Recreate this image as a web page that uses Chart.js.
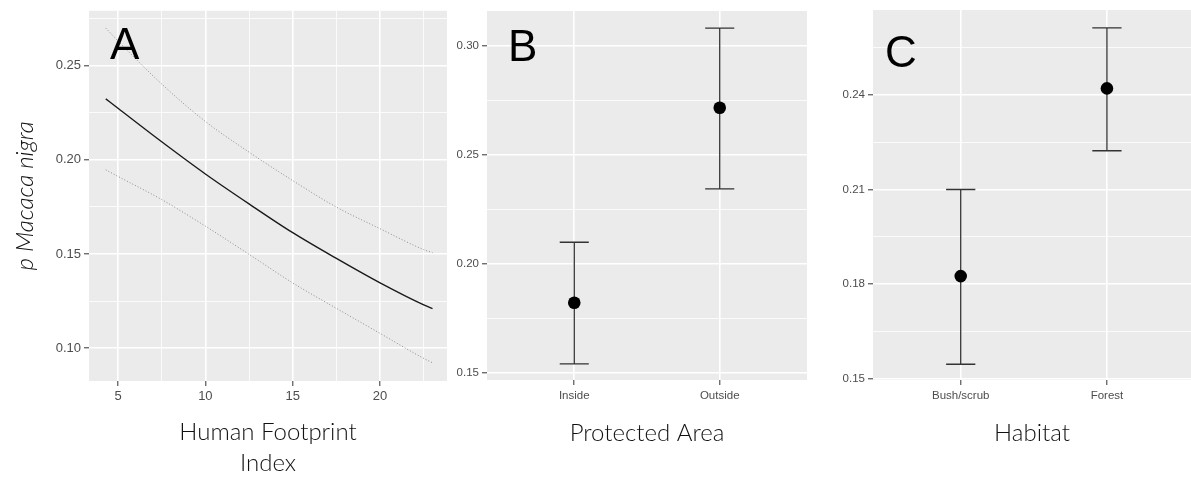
<!DOCTYPE html>
<html>
<head>
<meta charset="utf-8">
<script src="https://cdn.jsdelivr.net/npm/chart.js@4.4.0/dist/chart.umd.min.js"></script>
<style>
  html, body { margin: 0; padding: 0; background: #fff; }
  body { width: 1191px; height: 480px; position: relative; overflow: hidden; }
  canvas { position: absolute; top: 0; }
  .tag { position: absolute; font-family: "Liberation Sans", Arial, sans-serif; font-size: 44px; line-height: 44px; color: #000; }
</style>
</head>
<body>
<canvas id="chartA" width="450" height="480" style="left:0px"></canvas>
<canvas id="chartB" width="372" height="480" style="left:440px"></canvas>
<canvas id="chartC" width="371" height="480" style="left:820px"></canvas>
<div class="tag" style="left:110px;top:22px">A</div>
<div class="tag" style="left:508px;top:24px">B</div>
<div class="tag" style="left:885px;top:30px">C</div>
<script>
// A: human footprint index (fit + dotted CI)
const hfiX = [4.3, 5, 7.5, 10, 12.5, 15, 17.5, 20, 22.5, 23];
const hfiFit = [0.2324, 0.2274, 0.2096, 0.1925, 0.1766, 0.1613, 0.1476, 0.1346, 0.1229, 0.1210];
const hfiUpper = [0.2700, 0.2632, 0.2403, 0.2204, 0.2041, 0.1890, 0.1749, 0.1634, 0.1523, 0.1507];
const hfiLower = [0.1947, 0.1912, 0.1789, 0.1648, 0.1498, 0.1346, 0.1211, 0.1078, 0.0945, 0.0922];
const hfiXTicks = [5, 10, 15, 20];
const hfiYTicks = [0.10, 0.15, 0.20, 0.25];

// B: protected area
const paCats = ['Inside', 'Outside'];
const paMean = [0.1823, 0.2716];
const paLow = [0.1543, 0.2344];
const paHigh = [0.2100, 0.3081];
const paYTicks = [0.15, 0.20, 0.25, 0.30];

// C: habitat
const habCats = ['Bush/scrub', 'Forest'];
const habMean = [0.1825, 0.2421];
const habLow = [0.1545, 0.2223];
const habHigh = [0.2100, 0.2613];
const habYTicks = [0.15, 0.18, 0.21, 0.24];

const tickFont = 'Liberation Sans, Arial, sans-serif';
const titleFont = {family: 'Lato, sans-serif', size: 24, weight: '300', lineHeight: 1.29};

// major ticks plus the ggplot-style minor grid halfway between them
function withMinor(major, min, max) {
  const step = major[1] - major[0];
  const out = major.map(v => ({value: v, minor: false}));
  [major[0] - step / 2].concat(major.map(v => v + step / 2)).forEach(v => {
    if (v > min && v < max) out.push({value: v, minor: true});
  });
  return out.sort((a, b) => a.value - b.value);
}

function axis(o) {
  return {
    type: 'linear',
    min: o.min,
    max: o.max,
    afterBuildTicks: s => { s.ticks = o.ticks.map(t => Object.assign({}, t)); },
    afterFit: s => { if (s.isHorizontal()) s.height = o.size; else s.width = o.size; },
    border: {display: false},
    grid: {
      color: '#ffffff',
      lineWidth: c => (c.tick && c.tick.minor) ? 0.8 : 1.6,
      tickColor: c => (c.tick && c.tick.minor) ? 'rgba(0,0,0,0)' : '#333333',
      tickLength: 5,
      tickWidth: 1
    },
    ticks: {
      autoSkip: false,
      maxRotation: 0,
      padding: o.pad,
      color: '#4d4d4d',
      font: {family: tickFont, size: o.fontSize},
      callback: (v, i, t) => t[i].minor ? '' : o.fmt(v)
    },
    title: o.title || {display: false}
  };
}

const panelBg = {
  id: 'panelBg',
  beforeDraw(chart) {
    const {ctx, chartArea: a} = chart;
    ctx.save();
    ctx.fillStyle = '#ebebeb';
    ctx.fillRect(a.left, a.top, a.right - a.left, a.bottom - a.top);
    ctx.restore();
  }
};

const errorBars = {
  id: 'errorBars',
  beforeDatasetsDraw(chart, args, opts) {
    if (!opts.low) return;
    const {ctx} = chart;
    const x = chart.scales.x, y = chart.scales.y;
    ctx.save();
    ctx.strokeStyle = '#333333';
    ctx.lineWidth = 1.3;
    opts.low.forEach((lo, i) => {
      const c = i + 1;
      const xc = x.getPixelForValue(c);
      const xl = x.getPixelForValue(c - opts.cap);
      const xr = x.getPixelForValue(c + opts.cap);
      const yl = y.getPixelForValue(lo);
      const yh = y.getPixelForValue(opts.high[i]);
      ctx.beginPath();
      ctx.moveTo(xc, yl); ctx.lineTo(xc, yh);
      ctx.moveTo(xl, yl); ctx.lineTo(xr, yl);
      ctx.moveTo(xl, yh); ctx.lineTo(xr, yh);
      ctx.stroke();
    });
    ctx.restore();
  }
};

const pts = ys => ys.map((v, i) => ({x: hfiX[i], y: v}));

new Chart(document.getElementById('chartA'), {
  type: 'line',
  data: {
    datasets: [
      {data: pts(hfiUpper), borderColor: '#8c8c8c', borderWidth: 1, borderDash: [1, 2], pointRadius: 0, cubicInterpolationMode: 'monotone'},
      {data: pts(hfiLower), borderColor: '#8c8c8c', borderWidth: 1, borderDash: [1, 2], pointRadius: 0, cubicInterpolationMode: 'monotone'},
      {data: pts(hfiFit), borderColor: '#1a1a1a', borderWidth: 1.4, pointRadius: 0, cubicInterpolationMode: 'monotone'}
    ]
  },
  options: {
    responsive: false,
    animation: false,
    devicePixelRatio: 1,
    layout: {padding: {left: 0, right: 3, top: 10, bottom: 0}, autoPadding: false},
    plugins: {legend: {display: false}, tooltip: {enabled: false}},
    scales: {
      x: axis({min: 3.34, max: 23.83, ticks: withMinor(hfiXTicks, 3.34, 23.83), size: 99, pad: 3, fontSize: 13,
        fmt: v => String(v),
        title: {display: true, text: ['Human Footprint', 'Index'], color: '#111', font: titleFont, padding: {top: 0, bottom: 1.5}}}),
      y: axis({min: 0.0825, max: 0.2792, ticks: withMinor(hfiYTicks, 0.0825, 0.2792), size: 89, pad: 3, fontSize: 13,
        fmt: v => v.toFixed(2),
        title: {display: true, text: 'p Macaca nigra', color: '#111', font: Object.assign({}, titleFont, {style: 'italic'}), padding: {top: 9.5, bottom: 0}}})
    }
  },
  plugins: [panelBg]
});

function catChart(id, cats, mean, low, high, yTicks, yMin, yMax, xMax, yWidth, padRight, padTop, title) {
  new Chart(document.getElementById(id), {
    type: 'scatter',
    data: {
      datasets: [{
        data: mean.map((v, i) => ({x: i + 1, y: v})),
        pointRadius: 6.3,
        pointBackgroundColor: '#000',
        pointBorderWidth: 0
      }]
    },
    options: {
      responsive: false,
      animation: false,
      devicePixelRatio: 1,
      layout: {padding: {left: 0, right: padRight, top: padTop, bottom: 0}, autoPadding: false},
      plugins: {legend: {display: false}, tooltip: {enabled: false}, errorBars: {low: low, high: high, cap: 0.1}},
      scales: {
        x: axis({min: 0.4, max: xMax, ticks: cats.map((c, i) => ({value: i + 1, minor: false})), size: 100, pad: 4, fontSize: 11.5,
          fmt: v => cats[Math.round(v) - 1],
          title: {display: true, text: title, color: '#111', font: titleFont, padding: {top: 0, bottom: 31.5}}}),
        y: axis({min: yMin, max: yMax, ticks: withMinor(yTicks, yMin, yMax), size: yWidth, pad: 3, fontSize: 11.5,
          fmt: v => v.toFixed(2)})
      }
    },
    plugins: [panelBg, errorBars]
  });
}

catChart('chartB', paCats, paMean, paLow, paHigh, paYTicks, 0.1469, 0.3159, 2.6, 47, 5, 11, 'Protected Area');
catChart('chartC', habCats, habMean, habLow, habHigh, habYTicks, 0.1495, 0.2670, 2.575, 53, 0, 10, 'Habitat');
</script>
</body>
</html>
